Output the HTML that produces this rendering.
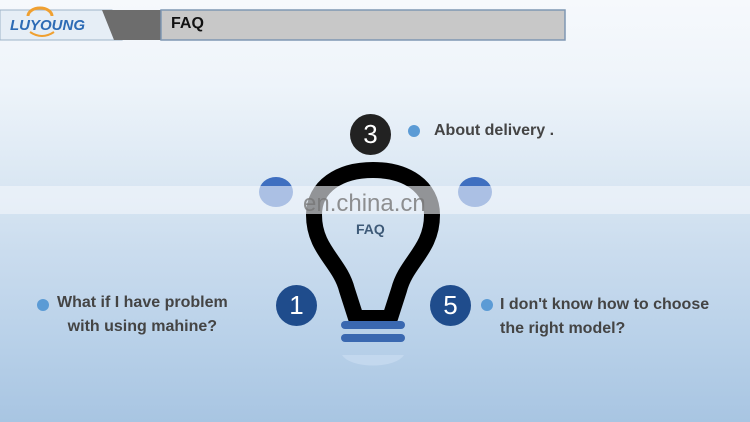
<!DOCTYPE html>
<html><head><meta charset="utf-8"><style>
body{margin:0;width:750px;height:422px;overflow:hidden;position:relative;font-family:"Liberation Sans",sans-serif;
background:linear-gradient(#f6f9fc 0%,#eef4fa 20%,#dde9f4 40%,#cadcee 60%,#b9d1e9 80%,#a8c5e2 100%);}
.a{position:absolute}
.t{position:absolute;font-weight:bold;color:#444;font-size:16px;line-height:24px}
.c{position:absolute;border-radius:50%;color:#fff;font-size:26px;text-align:center}
.d{position:absolute;width:12px;height:12px;border-radius:50%;background:#5b9bd5}
</style></head><body>
<svg class="a" style="left:0;top:0" width="750" height="422">
<polygon points="0,10 112,10 122,40 0,40" fill="#e6eef6" stroke="#9fb4c8"/>
<polygon points="102,10 162,10 162,40 114,40" fill="#6d6d6d"/>
<rect x="161" y="10" width="404" height="30" fill="#c8c8c8" stroke="#7f97b3" stroke-width="1.5"/>
<path d="M28,16 a12,8 0 0 1 24,0" fill="none" stroke="#f0a030" stroke-width="3"/>
<path d="M30,32 q12,8 24,0" fill="none" stroke="#f0a030" stroke-width="2"/>
<ellipse cx="276" cy="192" rx="17" ry="15" fill="#3f6fc0"/>
<ellipse cx="475" cy="192" rx="17" ry="15" fill="#3f6fc0"/>
<path d="M342,355 a32,14 0 0 0 62,0 z" fill="#c3d8ee"/>
<path d="M356,318 L347,290 C340,262 314,250 314,215 C314,186 340,170 373,170 C406,170 432,186 432,215 C432,250 406,262 399,290 L390,318 Z" fill="none" stroke="#000" stroke-width="16" stroke-linejoin="round"/>
<rect x="0" y="186" width="750" height="28" fill="#f4f7fb" opacity="0.6"/>
<rect x="341" y="321" width="64" height="8" rx="4" fill="#3a68b0"/>
<rect x="341" y="334" width="64" height="8" rx="4" fill="#3a68b0"/>
</svg>
<div class="a" style="left:10px;top:17px;font-weight:bold;font-size:15px;color:#2d6bb5;font-style:italic">LUYOUNG</div>
<div class="a" style="left:171px;top:15px;font-weight:bold;font-size:16px;color:#111">FAQ</div>
<div class="a" style="left:303px;top:190px;font-size:24px;color:#777;opacity:0.8">en.china.cn</div>
<div class="a" style="left:356px;top:221px;font-weight:bold;font-size:14px;color:#3e5a78">FAQ</div>
<div class="c" style="left:350px;top:114px;width:41px;height:41px;line-height:41px;background:#222">3</div>
<div class="c" style="left:276px;top:285px;width:41px;height:41px;line-height:41px;background:#1f4c8c">1</div>
<div class="c" style="left:430px;top:285px;width:41px;height:41px;line-height:41px;background:#1f4c8c">5</div>
<div class="d" style="left:408px;top:125px"></div>
<div class="t" style="left:434px;top:119px">About delivery .</div>
<div class="d" style="left:37px;top:299px"></div>
<div class="t" style="left:57px;top:291px;text-align:center">What if I have problem<br>with using mahine?</div>
<div class="d" style="left:481px;top:299px"></div>
<div class="t" style="left:500px;top:293px">I don't know how to choose<br>the right model?</div>
</body></html>
